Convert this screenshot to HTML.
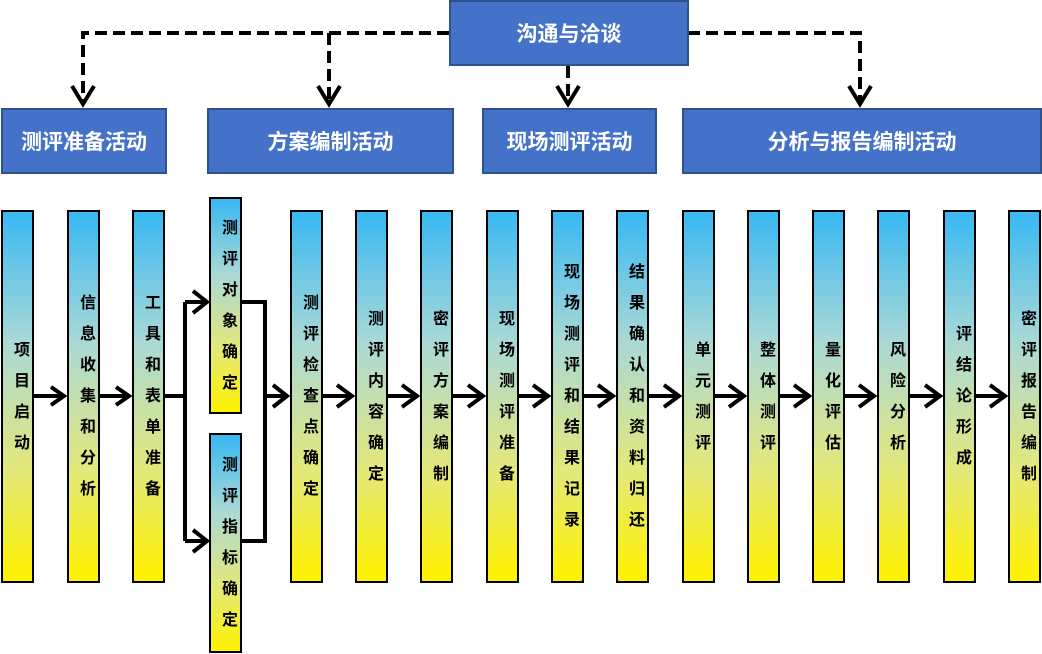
<!DOCTYPE html>
<html><head><meta charset="utf-8"><style>
body{margin:0;width:1042px;height:654px;background:#fff;position:relative;overflow:hidden;font-family:"Liberation Sans","Noto Sans CJK SC",sans-serif}
.h{position:absolute;background:#4472c9;border:2px solid #2f528f;box-sizing:border-box;color:#fff;font-weight:bold;font-size:21px;display:flex;align-items:center;justify-content:center}
.b{position:absolute;width:33px;border:2px solid #000;box-sizing:border-box;padding-left:9px;background:linear-gradient(#38b8f2,#a9d8d6 35%,#e3e87a 70%,#fff200);display:flex;flex-direction:column;align-items:center;justify-content:center;font-weight:bold;font-size:16px;color:#000}
.b span{display:block;height:31px;line-height:31px}
svg{position:absolute;left:0;top:0}
</style></head><body>
<svg width="1042" height="654">
<g fill="none" stroke="#000" stroke-width="4" stroke-dasharray="12,6">
<path d="M449 33 H83 V100"/><path d="M329 33 V100"/><path d="M568 66 V100"/><path d="M688 33 H860 V100"/>
</g>
<g fill="none" stroke="#000" stroke-width="4">
<path d="M72 86 L83 104 L94 86"/><path d="M318 86 L329 104 L340 86"/><path d="M557 86 L568 104 L579 86"/><path d="M849 86 L860 104 L871 86"/>
<path d="M34 396 H64 M51 387 L64 396 L51 405"/>
<path d="M99 396 H129 M116 387 L129 396 L116 405"/>
<path d="M164 396 H185 M185 302 V541 M185 302 H206 M185 541 H206 M193 291 L207 302 L193 313 M193 530 L207 541 L193 552"/>
<path d="M241 302 H265 V541 H241 M265 396 H287 M273 385 L287 396 L273 407"/>
<path d="M322 396 H352 M337 385 L352 396 L337 407"/>
<path d="M388 396 H417 M402 385 L417 396 L402 407"/>
<path d="M452 396 H483 M468 385 L483 396 L468 407"/>
<path d="M518 396 H548 M533 385 L548 396 L533 407"/>
<path d="M583 396 H613 M598 385 L613 396 L598 407"/>
<path d="M648 396 H679 M664 385 L679 396 L664 407"/>
<path d="M714 396 H744 M729 385 L744 396 L729 407"/>
<path d="M779 396 H809 M794 385 L809 396 L794 407"/>
<path d="M844 396 H874 M859 385 L874 396 L859 407"/>
<path d="M909 396 H940 M925 385 L940 396 L925 407"/>
<path d="M975 396 H1005 M990 385 L1005 396 L990 407"/>
</g>
</svg>
<div class="h" style="left:449px;top:0;width:240px;height:66px">沟通与洽谈</div>
<div class="h" style="left:1px;top:108px;width:166px;height:66px">测评准备活动</div>
<div class="h" style="left:207px;top:108px;width:247px;height:66px">方案编制活动</div>
<div class="h" style="left:482px;top:108px;width:175px;height:66px">现场测评活动</div>
<div class="h" style="left:682px;top:108px;width:360px;height:66px">分析与报告编制活动</div>

<div class="b" style="left:1px;top:210px;height:373px"><span>项</span><span>目</span><span>启</span><span>动</span></div>
<div class="b" style="left:67px;top:210px;height:373px"><span>信</span><span>息</span><span>收</span><span>集</span><span>和</span><span>分</span><span>析</span></div>
<div class="b" style="left:132px;top:210px;height:373px"><span>工</span><span>具</span><span>和</span><span>表</span><span>单</span><span>准</span><span>备</span></div>
<div class="b" style="left:209px;top:197px;height:217px"><span>测</span><span>评</span><span>对</span><span>象</span><span>确</span><span>定</span></div>
<div class="b" style="left:209px;top:433px;height:220px"><span>测</span><span>评</span><span>指</span><span>标</span><span>确</span><span>定</span></div>
<div class="b" style="left:290px;top:210px;height:373px"><span>测</span><span>评</span><span>检</span><span>查</span><span>点</span><span>确</span><span>定</span></div>
<div class="b" style="left:355px;top:210px;height:373px"><span>测</span><span>评</span><span>内</span><span>容</span><span>确</span><span>定</span></div>
<div class="b" style="left:420px;top:210px;height:373px"><span>密</span><span>评</span><span>方</span><span>案</span><span>编</span><span>制</span></div>
<div class="b" style="left:486px;top:210px;height:373px"><span>现</span><span>场</span><span>测</span><span>评</span><span>准</span><span>备</span></div>
<div class="b" style="left:551px;top:210px;height:373px"><span>现</span><span>场</span><span>测</span><span>评</span><span>和</span><span>结</span><span>果</span><span>记</span><span>录</span></div>
<div class="b" style="left:616px;top:210px;height:373px"><span>结</span><span>果</span><span>确</span><span>认</span><span>和</span><span>资</span><span>料</span><span>归</span><span>还</span></div>
<div class="b" style="left:682px;top:210px;height:373px"><span>单</span><span>元</span><span>测</span><span>评</span></div>
<div class="b" style="left:747px;top:210px;height:373px"><span>整</span><span>体</span><span>测</span><span>评</span></div>
<div class="b" style="left:812px;top:210px;height:373px"><span>量</span><span>化</span><span>评</span><span>估</span></div>
<div class="b" style="left:877px;top:210px;height:373px"><span>风</span><span>险</span><span>分</span><span>析</span></div>
<div class="b" style="left:943px;top:210px;height:373px"><span>评</span><span>结</span><span>论</span><span>形</span><span>成</span></div>
<div class="b" style="left:1008px;top:210px;height:373px"><span>密</span><span>评</span><span>报</span><span>告</span><span>编</span><span>制</span></div>
</body></html>
